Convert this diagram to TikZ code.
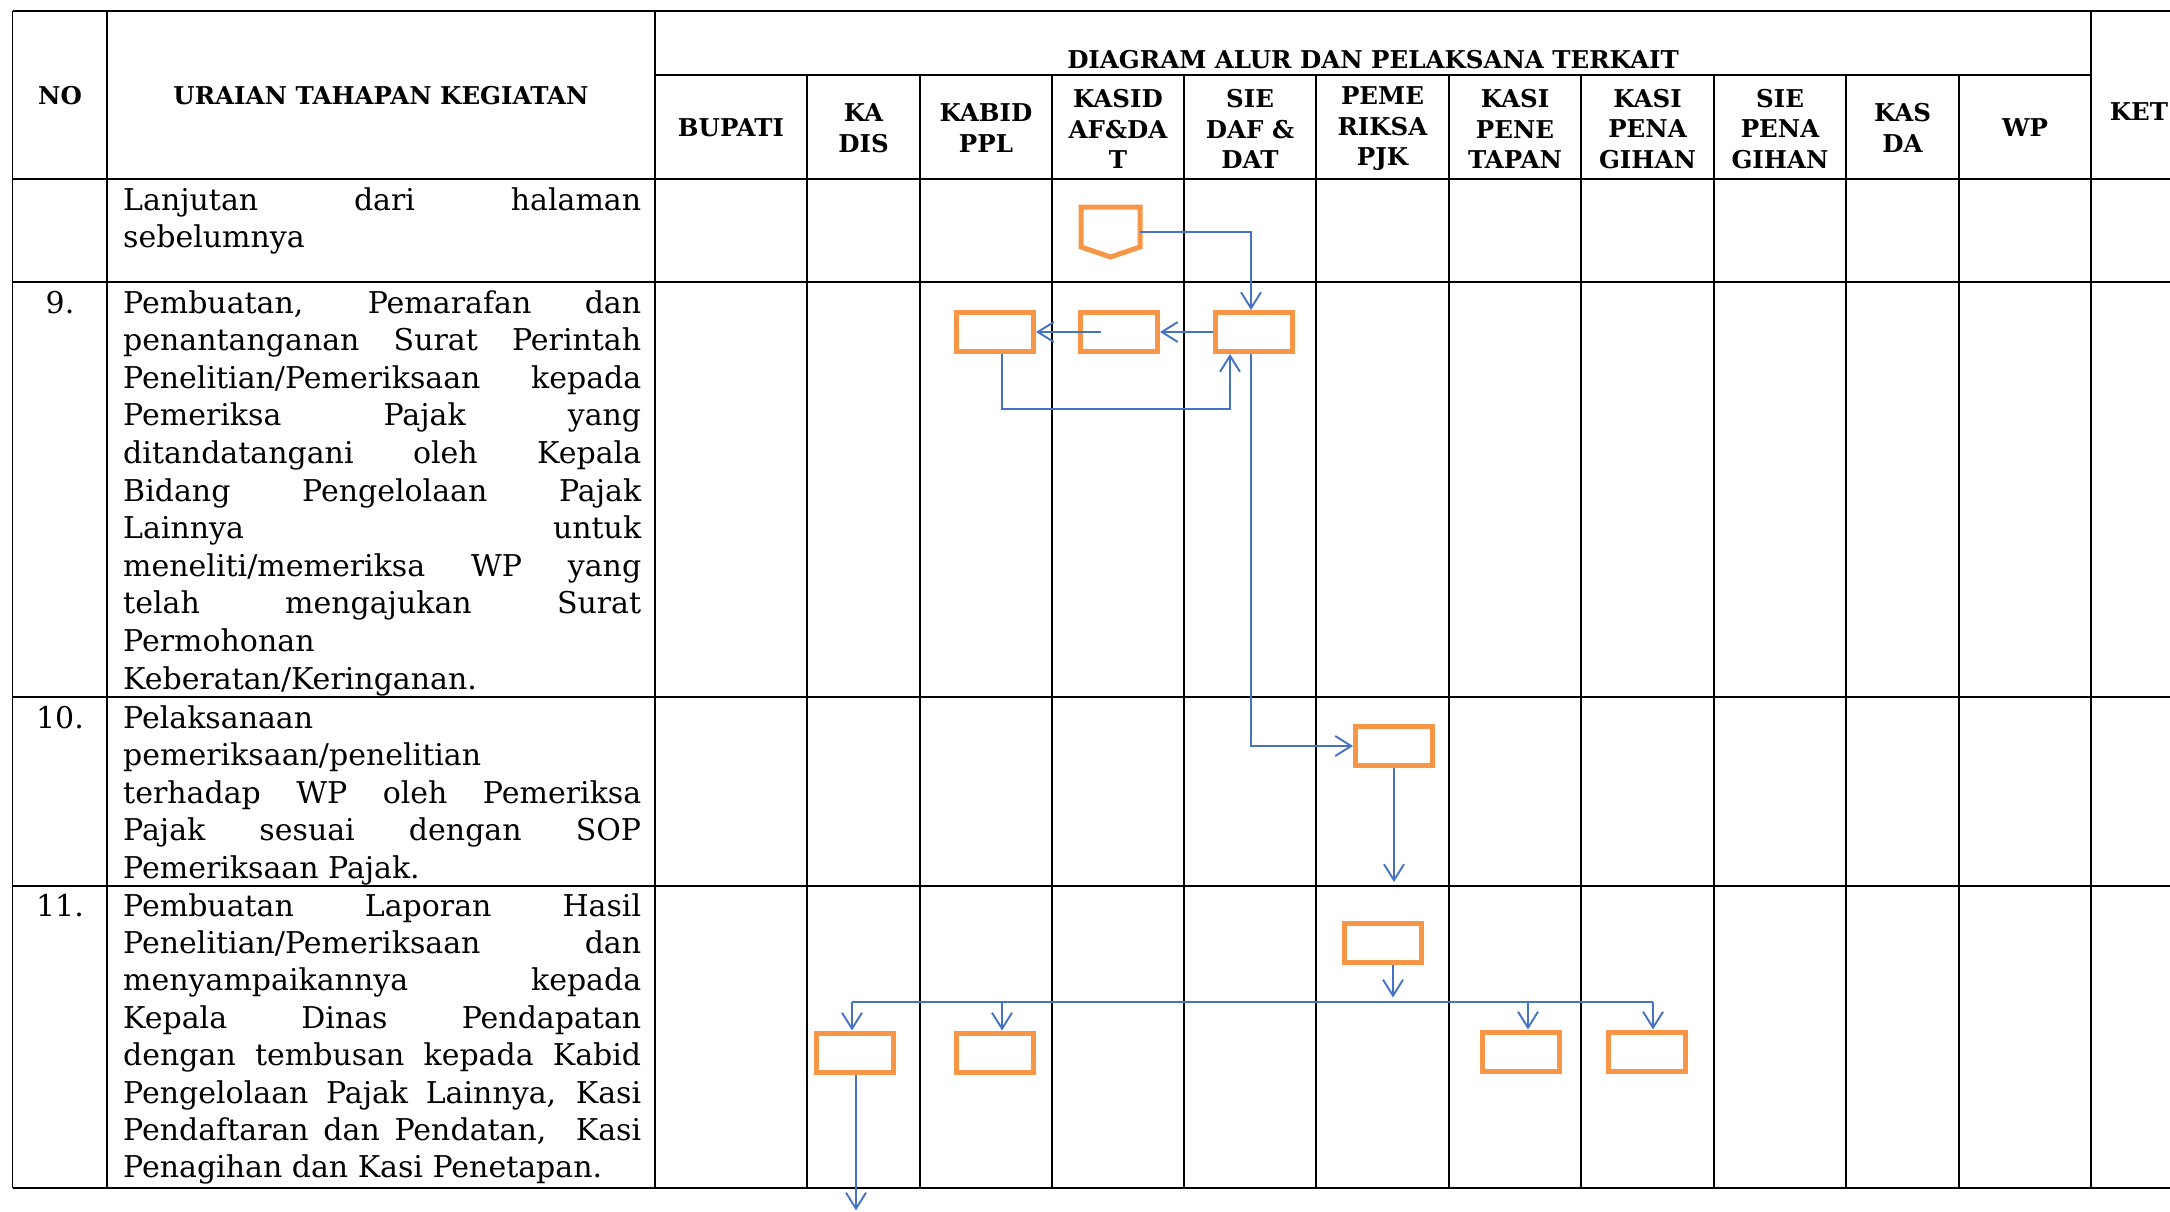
\documentclass[tikz,border=0pt]{standalone}
\usepackage{fontspec}
\setmainfont{DejaVu Serif}
\usetikzlibrary{arrows.meta}

\definecolor{boxorange}{HTML}{F79646}
\definecolor{flowblue}{HTML}{4472C4}

% body text of the step descriptions
\newcommand{\descfont}{\fontsize{30}{37.6}\selectfont}
% one fully justified line of a description
\newcommand{\jrow}[1]{\makebox[\linewidth][s]{#1}\\}

\tikzset{
  hrule/.style={line width=1.6pt, black},
  vrule/.style={line width=1.1pt, black},
  head/.style={font=\bfseries\fontsize{24.5}{30.6}\selectfont, align=center, inner sep=0pt},
  desc/.style={anchor=base west, inner sep=0pt},
  stepno/.style={anchor=base, inner sep=0pt, font=\descfont},
  task/.style={draw=boxorange, line width=5pt, minimum width=77pt, minimum height=39pt,
               inner sep=0pt, fill=white},
  flowline/.style={draw=flowblue, line width=1.9pt},
  flow/.style={flowline, -{Straight Barb[length=16pt,width=20pt]}},
}

\begin{document}
\begin{tikzpicture}[x=1pt, y=-1pt]
\useasboundingbox (0,0) rectangle (2170,1212);

% ---------- table grid ----------
\foreach \yy in {11,179,282,697,886,1188}
  \draw[hrule] (12.6,\yy) -- (2170,\yy);
\draw[hrule] (655,75) -- (2091,75);
\foreach \xx in {12.6,107,655,2091}
  \draw[vrule] (\xx,11) -- (\xx,1188);
\foreach \xx in {807,920,1052,1184,1316,1449,1581,1714,1846,1959}
  \draw[vrule] (\xx,75) -- (\xx,1188);

% ---------- header ----------
\node[head] (hNO) at (60,95.5) {NO};
\node[head] (hUR) at (381,95.5) {URAIAN TAHAPAN KEGIATAN};
\node[head] (hDG) at (1373,60) {DIAGRAM ALUR DAN PELAKSANA TERKAIT};
\node[head] (hBU) at (731,128) {BUPATI};
\node[head] (hKD) at (863.5,128) {KA\\DIS};
\node[head] (hKB) at (986,128) {KABID\\PPL};
\node[head] (hKS) at (1118,129) {KASID\\AF\&DA\\T};
\node[head] (hSD) at (1250,129) {SIE\\DAF \&\\DAT};
\node[head] (hPR) at (1382.5,129) {PEME\\RIKSA\\PJK};
\node[head] (hPT) at (1515,129) {KASI\\PENE\\TAPAN};
\node[head] (hPG) at (1647.5,129) {KASI\\PENA\\GIHAN};
\node[head] (hSP) at (1780,129) {SIE\\PENA\\GIHAN};
\node[head] (hKA) at (1902.5,128) {KAS\\DA};
\node[head] (hWP) at (2025,128) {WP};
\node[head] (hKT) at (2139,112) {KET};

% ---------- step numbers and descriptions ----------
\node[desc] (t0) at (123,210) {\parbox[t]{518pt}{\descfont
  \jrow{Lanjutan dari halaman}
  sebelumnya}};

\node[stepno] (n9) at (60,313) {9.};
\node[desc] (t9) at (123,313) {\parbox[t]{518pt}{\descfont
  \jrow{Pembuatan, Pemarafan dan}
  \jrow{penantanganan Surat Perintah}
  \jrow{Penelitian/Pemeriksaan kepada}
  \jrow{Pemeriksa Pajak yang}
  \jrow{ditandatangani oleh Kepala}
  \jrow{Bidang Pengelolaan Pajak}
  \jrow{Lainnya untuk}
  \jrow{meneliti/memeriksa WP yang}
  \jrow{telah mengajukan Surat}
  Permohonan\\
  Keberatan/Keringanan.}};

\node[stepno] (n10) at (60,728) {10.};
\node[desc] (t10) at (123,728) {\parbox[t]{518pt}{\descfont
  Pelaksanaan\\
  pemeriksaan/penelitian\\
  \jrow{terhadap WP oleh Pemeriksa}
  \jrow{Pajak sesuai dengan SOP}
  Pemeriksaan Pajak.}};

\node[stepno] (n11) at (60,916) {11.};
\node[desc] (t11) at (123,916) {\parbox[t]{518pt}{\fontsize{30}{37.4}\selectfont
  \jrow{Pembuatan Laporan Hasil}
  \jrow{Penelitian/Pemeriksaan dan}
  \jrow{menyampaikannya kepada}
  \jrow{Kepala Dinas Pendapatan}
  \jrow{dengan tembusan kepada Kabid}
  \jrow{Pengelolaan Pajak Lainnya, Kasi}
  \jrow{Pendaftaran dan Pendatan,\ \ Kasi}
  Penagihan dan Kasi Penetapan.}};

% ---------- off-page connector (continued from previous page) ----------
\node[minimum width=59pt, minimum height=50pt, inner sep=0pt, outer sep=0pt] (P) at (1110.5,232) {};
\draw[draw=boxorange, line width=5pt, fill=white]
  (P.north west) -- (P.north east) -- (1140,247) -- (P.south) -- (1081,247) -- cycle;

% ---------- process boxes ----------
\node[task] (A) at (1254,332) {};   % SIE DAF & DAT, step 9
\node[task] (B) at (1119,332) {};   % KASID, step 9
\node[task] (C) at (995,332) {};    % KABID, step 9
\node[task] (D) at (1394,746) {};   % Pemeriksa, step 10
\node[task] (E) at (1383,942.5) {}; % Pemeriksa, step 11
\node[task] (F) at (855,1052.5) {}; % KA DIS
\node[task] (G) at (995,1052.5) {}; % KABID
\node[task] (H) at (1521,1051.5) {};% KASI PENETAPAN
\node[task] (I) at (1647,1051.5) {};% KASI PENAGIHAN

% ---------- connectors ----------
\draw[flow] (P.east) -| ([xshift=-3pt]A.north);
\draw[flow] (A.west) -- (B.east);
\draw[flow] ([xshift=-18pt]B.center) -- (C.east);
\draw[flow] ([xshift=7pt]C.south) -- ++(0,55) -| ([xshift=-24pt]A.south);
\draw[flow] ([xshift=-3pt]A.south) |- (D.west);
\draw[flow] (D.south) -- ++(0,114);
\draw[flow] ([xshift=10pt]E.south) -- ++(0,33);

\coordinate (busL) at (852,1002);
\coordinate (busR) at (1653,1002);
\coordinate (dropG) at (1002,1002);
\coordinate (dropH) at (1528,1002);
\draw[flowline] (busL) -- (busR);
\draw[flow] (busL) -- (busL |- F.north);
\draw[flow] (dropG) -- (dropG |- G.north);
\draw[flow] (dropH) -- (dropH |- H.north);
\draw[flow] (busR) -- (busR |- I.north);
\draw[flow] ([xshift=1pt]F.south) -- ++(0,136);

\end{tikzpicture}
\end{document}
